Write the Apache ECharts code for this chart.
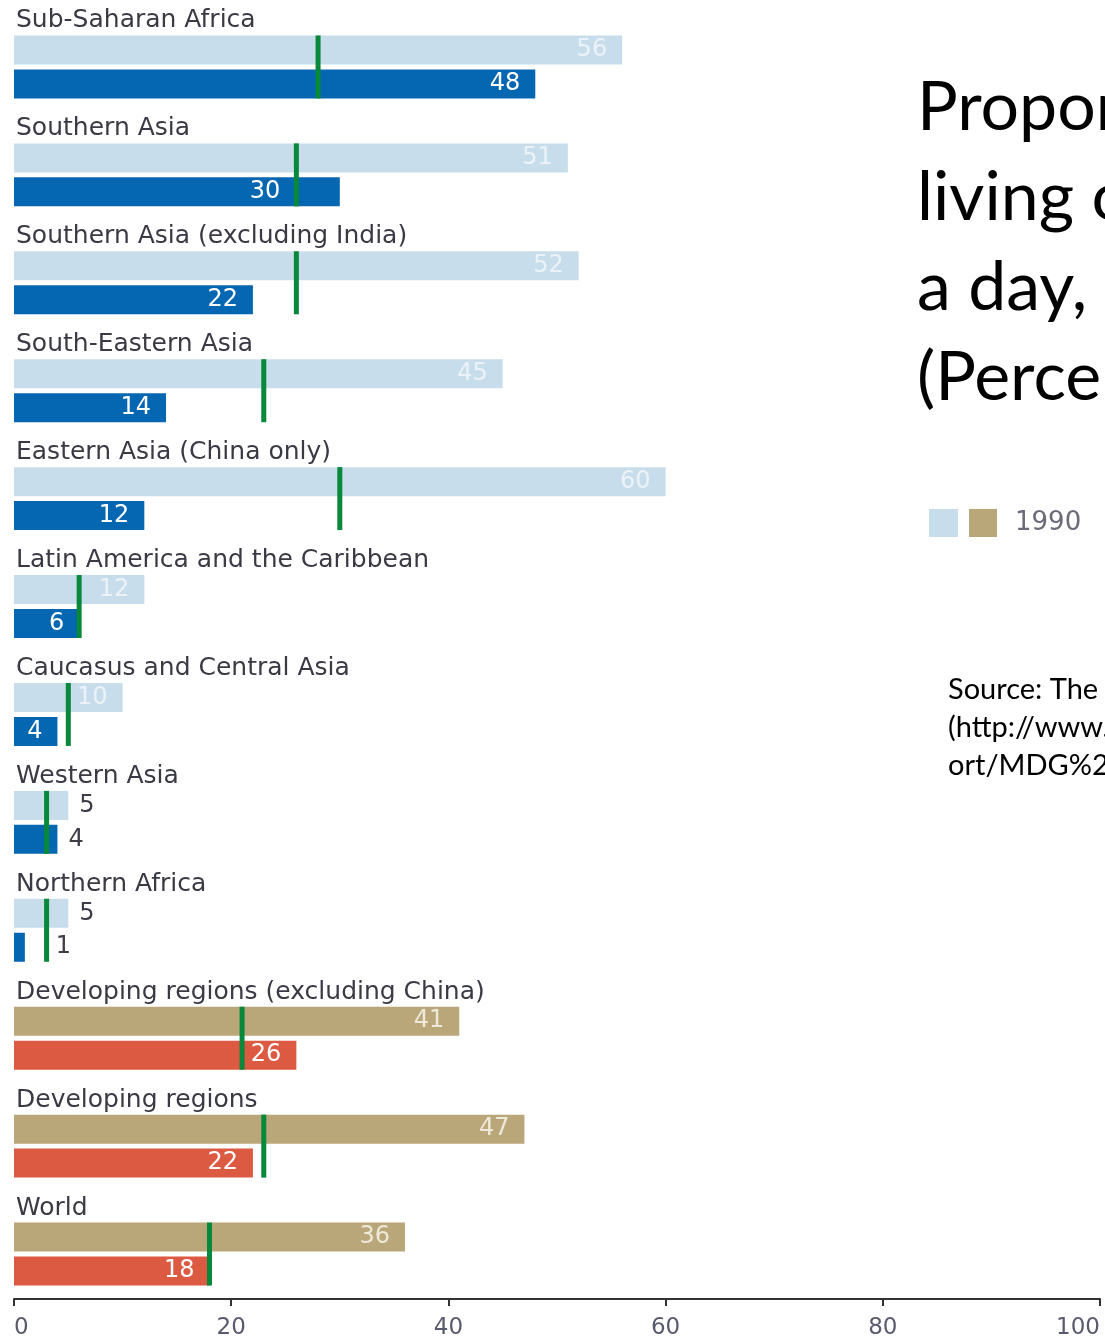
<!DOCTYPE html>
<html><head><meta charset="utf-8">
<script src="https://cdn.jsdelivr.net/npm/echarts@6/dist/echarts.min.js"></script>
<style>html,body{margin:0;padding:0;background:#fff}#c{width:1105px;height:1337px}</style>
</head><body><div id="c"></div>
<script>
const regions = [
  'Sub-Saharan Africa',
  'Southern Asia',
  'Southern Asia (excluding India)',
  'South-Eastern Asia',
  'Eastern Asia (China only)',
  'Latin America and the Caribbean',
  'Caucasus and Central Asia',
  'Western Asia',
  'Northern Africa',
  'Developing regions (excluding China)',
  'Developing regions',
  'World'
];
const values1990 = [56, 51, 52, 45, 60, 12, 10, 5, 5, 41, 47, 36];
const values2010 = [48, 30, 22, 14, 12, 6, 4, 4, 1, 26, 22, 18];
const targets2015 = [28, 26, 26, 23, 30, 6, 5, 3, 3, 21, 23, 18];
const xTicks = [0, 20, 40, 60, 80, 100];
const aggregateRegions = ['Developing regions (excluding China)', 'Developing regions', 'World'];
const titleLines = ['Proportion of people', 'living on less than $1.25', 'a day, 1990 and 2010', '(Percentage)'];
const legendLabel = '1990';
const sourceLines = ['Source: The Millennium Development Goals Report 2012', '(http://www.un.org/millenniumgoals/pdf/MDG%20Rep', 'ort/MDG%202012.pdf)'];

const C = {
  light: '#c7ddec', blue: '#0566b1', tan: '#b9a679', red: '#dc5a42', green: '#07883a',
  lightTxt: '#ecf3f8', tanTxt: '#efe9da', darkTxt: '#3d3d48'
};
const FONT = '"DejaVu Sans"';
const GRID_LEFT = 14, GRID_RIGHT = 5;
const pxPerUnit = (1105 - GRID_LEFT - GRID_RIGHT) / 100;
const isAgg = i => aggregateRegions.includes(regions[i]);

function barItem(v, i, first) {
  const outside = v < 2 || (v <= 5 && targets2015[i] < v);
  const color = first ? (isAgg(i) ? C.tan : C.light) : (isAgg(i) ? C.red : C.blue);
  const txt = first ? (isAgg(i) ? C.tanTxt : C.lightTxt) : '#ffffff';
  let dist = 15;
  const gap = v - targets2015[i];
  if (outside) dist = targets2015[i] > v ? 31 : 11;
  else if (gap > 0.5 && gap < 4.5) dist = gap * pxPerUnit + 16;
  return {
    value: v,
    itemStyle: { color },
    label: {
      show: true,
      position: outside ? 'right' : 'insideRight',
      distance: dist,
      color: outside ? C.darkTxt : txt,
      fontFamily: FONT, fontSize: 24
    }
  };
}

const chart = echarts.init(document.getElementById('c'), null, { renderer: 'canvas' });
const graphics = [];
titleLines.forEach((t, k) => graphics.push({
  type: 'text', left: 917, top: 74 + k * 90,
  style: { text: t, font: '68px Lato', fill: '#000' }
}));
graphics.push({ type: 'rect', left: 929, top: 509, shape: { width: 29, height: 28 }, style: { fill: C.light } });
graphics.push({ type: 'rect', left: 969, top: 509, shape: { width: 28, height: 28 }, style: { fill: C.tan } });
graphics.push({ type: 'text', left: 1015, top: 510, style: { text: legendLabel, font: '26px "DejaVu Sans"', fill: '#6b6b78' } });
sourceLines.forEach((t, k) => graphics.push({
  type: 'text', left: 948, top: 675 + k * 38,
  style: { text: t, font: '29px Lato', fill: '#000' }
}));

chart.setOption({
  animation: false,
  backgroundColor: '#fff',
  grid: { left: GRID_LEFT, right: GRID_RIGHT, top: 13, height: 1295, containLabel: false, outerBoundsMode: 'none' },
  xAxis: {
    type: 'value', min: 0, max: 100, interval: 20, offset: -9,
    axisLine: { show: true, lineStyle: { color: '#333', width: 2 } },
    axisTick: { show: true, length: 7, lineStyle: { color: '#333', width: 2 } },
    splitLine: { show: false },
    axisLabel: {
      color: '#5a5a6e', fontFamily: FONT, fontSize: 23, margin: 18,
      alignMinLabel: 'left', alignMaxLabel: 'right',
      formatter: v => xTicks.includes(v) ? String(v) : ''
    }
  },
  yAxis: {
    type: 'category', data: regions, inverse: true,
    axisLine: { show: false }, axisTick: { show: false }, axisLabel: { show: false }
  },
  graphic: graphics,
  series: [
    { type: 'bar', name: '1990', barWidth: 29, barGap: '17%', data: values1990.map((v, i) => barItem(v, i, true)) },
    { type: 'bar', name: '2010', barWidth: 29, barGap: '17%', data: values2010.map((v, i) => barItem(v, i, false)) },
    {
      type: 'custom', name: 'Target', z: 5,
      encode: { x: 0, y: 1 },
      data: targets2015.map((t, i) => [t, i]),
      renderItem: (params, api) => {
        const p = api.coord([api.value(0), api.value(1)]);
        return { type: 'rect', shape: { x: p[0] - 2.5, y: p[1] - 31.5, width: 5, height: 63 }, style: { fill: C.green } };
      }
    },
    {
      type: 'custom', name: 'Region', z: 6, silent: true,
      encode: { x: 0, y: 1 },
      data: regions.map((r, i) => [0, i]),
      renderItem: (params, api) => {
        const p = api.coord([api.value(0), api.value(1)]);
        return {
          type: 'text', x: p[0] + 2, y: p[1] - 46,
          style: { text: regions[params.dataIndex], font: '25px "DejaVu Sans"', fill: '#3a3a44', align: 'left', verticalAlign: 'middle' }
        };
      }
    }
  ]
});
</script>
</body></html>
